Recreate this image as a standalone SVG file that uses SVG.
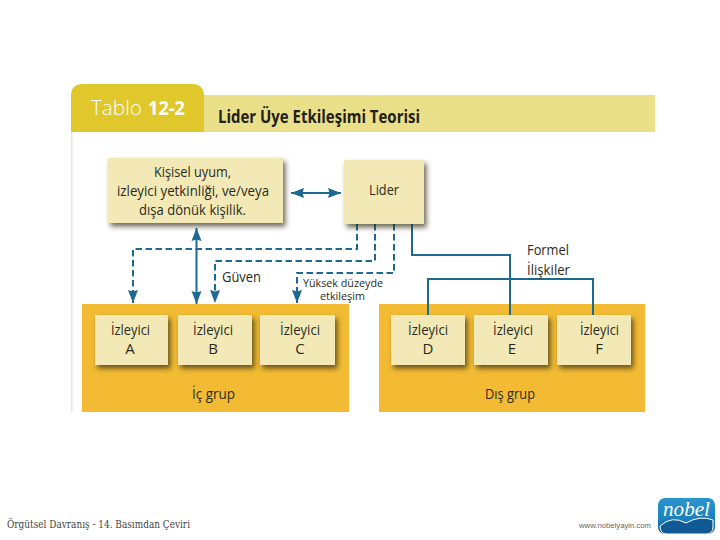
<svg xmlns="http://www.w3.org/2000/svg" width="720" height="540" viewBox="0 0 720 540">
<style>
text{font-family:"Open Sans","Noto Sans",sans-serif;fill:#2b2a22;font-size:15px}
.box{fill:#f3e9b6;filter:url(#sh)}
.grp{fill:#f2bb33}
.s{fill:none;stroke:#1c6a92;stroke-width:2}
.d{fill:none;stroke:#1c6a92;stroke-width:2;stroke-dasharray:6.500 3.500;marker-end:url(#a)}
</style>
<defs>
<filter id="sh" x="-15%" y="-15%" width="135%" height="140%"><feDropShadow dx="2.500" dy="3.500" stdDeviation="2.500" flood-color="#2e2814" flood-opacity="0.7"/></filter>
<marker id="a" markerUnits="userSpaceOnUse" markerWidth="16" markerHeight="12" refX="13" refY="5" orient="auto"><path d="M0 0L13 5L0 10L1.500 5Z" fill="#1c6a92"/></marker>
<marker id="b" markerUnits="userSpaceOnUse" markerWidth="16" markerHeight="12" refX="0" refY="5" orient="auto"><path d="M13 0L0 5L13 10L11.500 5Z" fill="#1c6a92"/></marker>
<linearGradient id="logo" x1="0" y1="0" x2="0" y2="1"><stop offset="0" stop-color="#2b95cf"/><stop offset="0.6" stop-color="#1b7fbb"/><stop offset="1" stop-color="#0f5a95"/></linearGradient>
</defs>
<rect width="720" height="540" fill="#fff"/>
<g id="header">
<rect x="71" y="132" width="1.500" height="280" fill="#e6e6e0"/>
<rect x="204" y="95" width="451" height="37" fill="#ebe08a"/>
<path d="M71 132V96Q71 84 83 84H192Q204 84 204 96V132Z" fill="#dfc72c"/>
<text x="91" y="115" style="fill:#fff;font-size:20px;font-weight:300" textLength="51" lengthAdjust="spacingAndGlyphs">Tablo</text>
<text x="148" y="115" style="fill:#fff;font-size:20px;font-weight:700" textLength="37" lengthAdjust="spacingAndGlyphs">12-2</text>
<text x="218" y="123" style="font-size:18px;font-weight:700;fill:#22211a" textLength="202" lengthAdjust="spacingAndGlyphs">Lider Üye Etkileşimi Teorisi</text>
</g>
<g id="ic-grup"><rect class="grp" x="82" y="304" width="267" height="108"/><text x="192" y="399" textLength="43" lengthAdjust="spacingAndGlyphs">İç grup</text></g>
<g id="dis-grup"><rect class="grp" x="379" y="304" width="266" height="108"/><text x="485" y="399" textLength="50" lengthAdjust="spacingAndGlyphs">Dış grup</text></g>
<g id="connectors">
<path class="s" d="M412 224V255H510V315"/>
<path class="s" d="M428 315V279H593V315"/>
<path class="s" d="M291 193H341" marker-start="url(#b)" marker-end="url(#a)"/>
<path class="s" d="M196.500 228V304" marker-start="url(#b)" marker-end="url(#a)"/>
<path class="d" d="M357 224V249H133V303"/>
<path class="d" d="M375 224V261H215V303"/>
<path class="d" d="M394 224V273H297V303"/>
</g>
<g id="kisisel"><rect class="box" x="108" y="158" width="175" height="65"/>
<text x="154" y="177" textLength="77" lengthAdjust="spacingAndGlyphs">Kişisel uyum,</text>
<text x="117" y="196" textLength="152" lengthAdjust="spacingAndGlyphs">izleyici yetkinliği, ve/veya</text>
<text x="139" y="215" textLength="107" lengthAdjust="spacingAndGlyphs">dışa dönük kişilik.</text></g>
<g id="lider"><rect class="box" x="344" y="160" width="80" height="64"/><text x="369" y="195" textLength="30" lengthAdjust="spacingAndGlyphs">Lider</text></g>
<g id="izleyici-a"><rect class="box" x="95" y="315" width="73" height="50"/><text x="111" y="335" textLength="39" lengthAdjust="spacingAndGlyphs">İzleyici</text><text x="130" y="354" text-anchor="middle">A</text></g>
<g id="izleyici-b"><rect class="box" x="178" y="315" width="74" height="50"/><text x="193" y="335" textLength="40" lengthAdjust="spacingAndGlyphs">İzleyici</text><text x="213" y="354" text-anchor="middle">B</text></g>
<g id="izleyici-c"><rect class="box" x="260" y="315" width="75" height="50"/><text x="280" y="335" textLength="40" lengthAdjust="spacingAndGlyphs">İzleyici</text><text x="300" y="354" text-anchor="middle">C</text></g>
<g id="izleyici-d"><rect class="box" x="391" y="315" width="74" height="50"/><text x="408" y="335" textLength="40" lengthAdjust="spacingAndGlyphs">İzleyici</text><text x="428" y="354" text-anchor="middle">D</text></g>
<g id="izleyici-e"><rect class="box" x="474" y="315" width="74" height="50"/><text x="493" y="335" textLength="40" lengthAdjust="spacingAndGlyphs">İzleyici</text><text x="512" y="354" text-anchor="middle">E</text></g>
<g id="izleyici-f"><rect class="box" x="557" y="315" width="74" height="50"/><text x="580" y="335" textLength="39" lengthAdjust="spacingAndGlyphs">İzleyici</text><text x="599" y="354" text-anchor="middle">F</text></g>
<g id="labels">
<text x="222" y="282" textLength="39" lengthAdjust="spacingAndGlyphs">Güven</text>
<text x="303" y="287" style="font-size:11px" textLength="80" lengthAdjust="spacingAndGlyphs">Yüksek düzeyde</text>
<text x="320" y="300" style="font-size:11px" textLength="45" lengthAdjust="spacingAndGlyphs">etkileşim</text>
<text x="527" y="255" textLength="42" lengthAdjust="spacingAndGlyphs">Formel</text>
<text x="527" y="275" textLength="43" lengthAdjust="spacingAndGlyphs">İlişkiler</text>
</g>
<g id="footer">
<text x="7" y="528" style="font-family:'DejaVu Serif','Liberation Serif',serif;font-size:10.500px;font-weight:400;fill:#444" textLength="183" lengthAdjust="spacingAndGlyphs">Örgütsel Davranış - 14. Basımdan Çeviri</text>
<text x="579" y="528" style="font-family:'Liberation Sans',sans-serif;font-size:8px;fill:#666" textLength="72" lengthAdjust="spacingAndGlyphs">www.nobelyayin.com</text>
<rect x="658" y="498" width="57" height="36" rx="7" fill="url(#logo)"/>
<path d="M660 526Q672 515 686 523Q700 515 713 520V527Q713 534 706 534H667Q660 534 660 526Z" fill="#0f5a95" stroke="#fff" stroke-width="1"/>
<text x="663" y="516" style="font-family:'Liberation Serif',serif;font-style:italic;font-size:21px;fill:#fff" textLength="47" lengthAdjust="spacingAndGlyphs">nobel</text>
</g>
</svg>
